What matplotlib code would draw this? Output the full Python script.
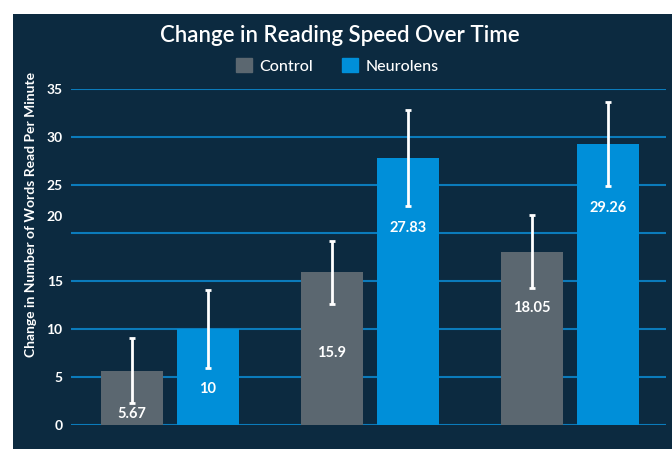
import matplotlib
matplotlib.use("Agg")
import matplotlib.pyplot as plt
import matplotlib.transforms as mtransforms
from matplotlib.patches import Rectangle
import numpy as np

# data
groups = ["Time 1", "Time 2", "Time 3"]
control = [5.67, 15.9, 18.05]
control_err = [3.37, 3.25, 3.8]
neurolens = [10, 27.83, 29.26]
neurolens_err = [4.05, 5.0, 4.4]
control_label_y = [1.15, 7.5, 12.2]
neurolens_label_y = [3.75, 20.5, 22.6]
yticks = [0, 5, 10, 15, 20, 25, 30, 35]

BG = "#0c2a40"
GRAY = "#5b6770"
BLUE = "#008fd9"
GRID = "#0b7bbb"

plt.rcParams["font.family"] = ["Lato", "DejaVu Sans"]

fig = plt.figure(figsize=(6.72, 4.49), dpi=100, facecolor="white")
# dark panel with a thin white margin top/left
fig.patches.append(Rectangle((13 / 672, 0), 1, 1 - 14 / 449, transform=fig.transFigure,
                             facecolor=BG, edgecolor="none", zorder=-10))

ax = fig.add_axes([71 / 672, 24 / 449, 595 / 672, 336 / 449])
ax.set_facecolor(BG)
ax.patch.set_alpha(0)

x = np.arange(len(groups))
w = 0.31
off = 0.19

ax.bar(x - off, control, w, color=GRAY, zorder=2)
ax.bar(x + off, neurolens, w, color=BLUE, zorder=2)
err_kw = dict(fmt="none", ecolor="white", elinewidth=2, capsize=2.3, capthick=2, zorder=3)
ax.errorbar(x - off, control, yerr=control_err, **err_kw)
ax.errorbar(x + off, neurolens, yerr=neurolens_err, **err_kw)

for xi, v, ly in zip(x - off, control, control_label_y):
    ax.text(xi, ly, f"{v:g}", color="white", ha="center", va="center",
            fontsize=10.5, fontweight="bold", zorder=4)
for xi, v, ly in zip(x + off, neurolens, neurolens_label_y):
    ax.text(xi, ly, f"{v:g}", color="white", ha="center", va="center",
            fontsize=10.5, fontweight="bold", zorder=4)

ax.set_xlim(-0.495, 2.48)
ax.set_ylim(0, 35)
ax.set_xticks([])
ax.set_yticks(yticks)
ax.set_yticklabels([str(t) for t in yticks], color="white", fontsize=10, fontweight="bold")
ax.tick_params(axis="y", length=0, pad=6)
for lab in ax.get_yticklabels():
    if lab.get_text() == "20":
        lab.set_transform(lab.get_transform() +
                          mtransforms.ScaledTranslation(0, 17 / 100, fig.dpi_scale_trans))
ax.grid(axis="y", color=GRID, linewidth=1.5, zorder=1)
ax.set_axisbelow(True)
for s in ax.spines.values():
    s.set_visible(False)

ax.set_ylabel("Change in Number of Words Read Per Minute", color="white",
              fontsize=10, fontweight="bold")
ax.yaxis.set_label_coords(-0.057, 0.628)

fig.text(0.506, 1 - 35 / 449, "Change in Reading Speed Over Time", color="white",
         ha="center", va="center", fontsize=16, fontweight="semibold")

handles = [Rectangle((0, 0), 1, 1, color=GRAY), Rectangle((0, 0), 1, 1, color=BLUE)]
fig.legend(handles, ["Control", "Neurolens"], loc="center", bbox_to_anchor=(0.502, 1 - 66 / 449),
           ncol=2, frameon=False, labelcolor="white",
           handlelength=1.0, handleheight=1.0, handletextpad=0.5, columnspacing=1.8,
           prop={"weight": "medium", "size": 11.5})

fig.savefig("out.png", dpi=100, facecolor="white")
